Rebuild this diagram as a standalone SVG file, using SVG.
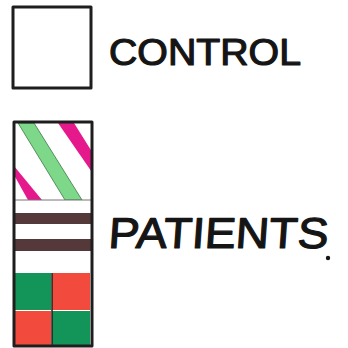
<svg xmlns="http://www.w3.org/2000/svg" width="348" height="348" viewBox="0 0 348 348">
<style>
.frame{fill:none;stroke:#1e1e1e;stroke-width:3;stroke-linejoin:round}
.lbl{font-family:"Liberation Sans",Arial,sans-serif;fill:#151515;stroke:#151515;stroke-width:1.2;stroke-linejoin:round}
.brown{fill:#55383a}
.dg{fill:#13955a}
.rd{fill:#f24a3c}
</style>
<rect width="348" height="348" fill="#ffffff"/>
<g id="control">
<rect class="frame" x="13" y="7" width="78" height="81"/>
<text class="lbl" x="109" y="65" font-size="37" textLength="192" lengthAdjust="spacingAndGlyphs">CONTROL</text>
</g>
<g id="patients">
<clipPath id="hc"><rect x="14" y="123" width="78" height="77"/></clipPath>
<g clip-path="url(#hc)">
<polygon points="18,123 34,123 82,200 65,200" fill="#7ed88a" stroke="#3a7a45" stroke-width="0.8"/>
<polygon points="58,123 74,123 96,158 96,178" fill="#e6198c"/>
<polygon points="10,168 14,166 42,200 28,200" fill="#e6198c"/>
</g>
<rect class="brown" x="14" y="213" width="77" height="11"/>
<rect class="brown" x="14" y="239" width="77" height="12"/>
<rect class="dg" x="14" y="273" width="37" height="37"/>
<rect class="rd" x="52" y="273" width="38" height="37"/>
<rect class="rd" x="14" y="311" width="37" height="34"/>
<rect class="dg" x="52" y="311" width="38" height="34"/>
<line x1="14" y1="200" x2="92" y2="200" stroke="#777" stroke-width="1"/>
<line x1="52" y1="273" x2="52" y2="345" stroke="#1e1e1e" stroke-width="1.5"/>
<rect class="frame" x="14" y="122" width="78" height="224"/>
<text class="lbl" x="108" y="248" font-size="43" textLength="220" lengthAdjust="spacingAndGlyphs" transform="skewX(-4) translate(17 0)">PATIENTS</text>
<circle cx="328" cy="258" r="2.2" fill="#151515"/>
</g>
</svg>
